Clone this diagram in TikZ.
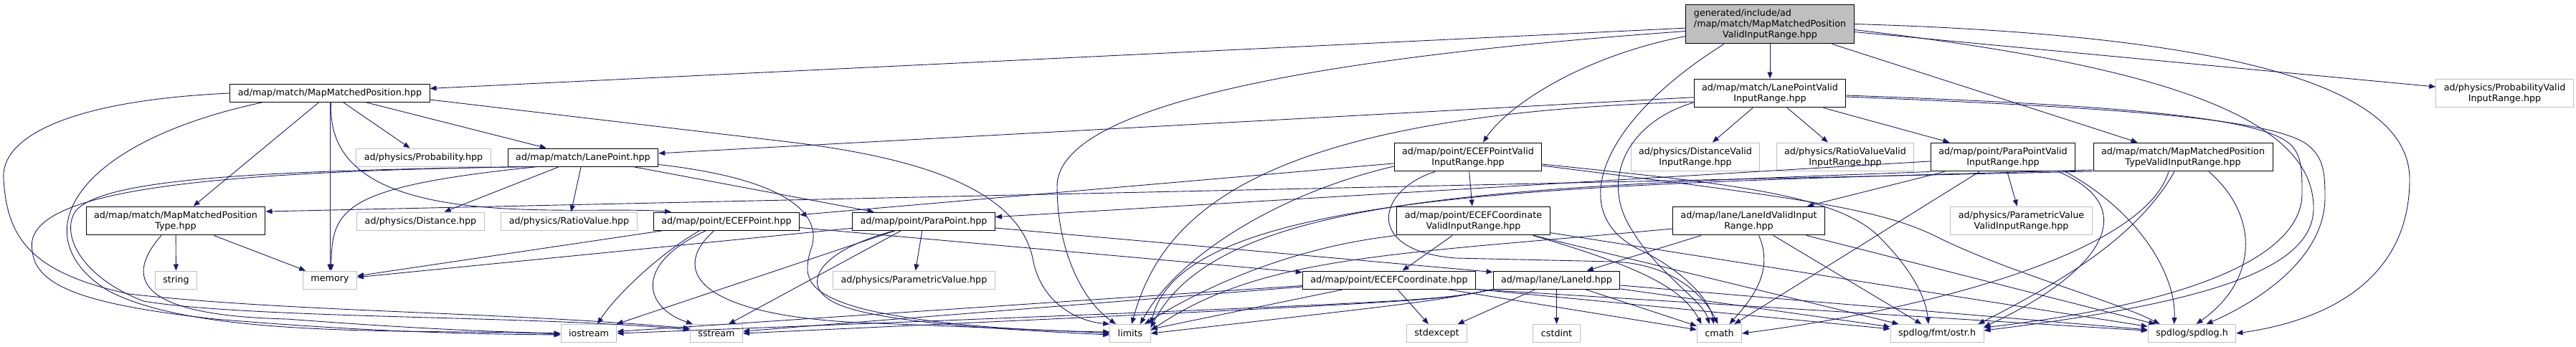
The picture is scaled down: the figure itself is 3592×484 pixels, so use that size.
\documentclass[tikz,border=0pt]{standalone}
\usepackage{fontspec}
\newfontfamily\dotfont{DejaVu Sans}
\usetikzlibrary{arrows.meta}
\definecolor{edgeblue}{RGB}{25,25,112}
\definecolor{grey75}{RGB}{191,191,191}

\begin{document}
\begin{tikzpicture}[
    x=1pt, y=-1pt,
    hdr/.style={rectangle, draw=black, line width=1pt, fill=white, inner xsep=11pt, inner ysep=6.3pt, minimum height=25pt, align=center, font=\dotfont\fontsize{12.7}{15}\selectfont},
    sys/.style={hdr, draw=grey75},
    cur/.style={hdr, fill=grey75},
    dep/.style={draw=edgeblue, line width=0.9pt, -{Triangle[length=9pt,width=7pt]}}
  ]
  \useasboundingbox (0,0) rectangle (3592,484);

  \node[cur] (main) at (2468,33.5) {\rlap{generated/include/ad}\phantom{/map/match/MapMatchedPosition}\\/map/match/MapMatchedPosition\\ValidInputRange.hpp};

  \node[hdr] (mmp) at (460,130) {ad/map/match/MapMatchedPosition.hpp};
  \node[hdr] (lpvir) at (2468,130) {ad/map/match/LanePointValid\\InputRange.hpp};
  \node[sys] (probvir) at (3492.5,130) {ad/physics/ProbabilityValid\\InputRange.hpp};

  \node[sys] (prob) at (590.5,219.5) {ad/physics/Probability.hpp};
  \node[hdr] (lp) at (813,219.5) {ad/map/match/LanePoint.hpp};
  \node[hdr] (ecefpvir) at (2047,219) {ad/map/point/ECEFPointValid\\InputRange.hpp};
  \node[sys] (distvir) at (2364,219) {ad/physics/DistanceValid\\InputRange.hpp};
  \node[sys] (ratiovir) at (2573,219) {ad/physics/RatioValueValid\\InputRange.hpp};
  \node[hdr] (parapvir) at (2793,219) {ad/map/point/ParaPointValid\\InputRange.hpp};
  \node[hdr] (mmptvir) at (3044,219) {ad/map/match/MapMatchedPosition\\TypeValidInputRange.hpp};

  \node[hdr] (mmpt) at (245,308) {ad/map/match/MapMatchedPosition\\Type.hpp};
  \node[sys] (dist) at (586.5,308.5) {ad/physics/Distance.hpp};
  \node[sys] (ratio) at (793.5,308.5) {ad/physics/RatioValue.hpp};
  \node[hdr] (ecefp) at (1013,308.5) {ad/map/point/ECEFPoint.hpp};
  \node[hdr] (parap) at (1288,308.5) {ad/map/point/ParaPoint.hpp};
  \node[hdr] (ecefcvir) at (2054.5,308) {ad/map/point/ECEFCoordinate\\ValidInputRange.hpp};
  \node[hdr] (laneidvir) at (2438.5,308) {ad/map/lane/LaneIdValidInput\\Range.hpp};
  \node[sys] (paramvir) at (2818.5,308) {ad/physics/ParametricValue\\ValidInputRange.hpp};

  \node[sys] (string) at (245.5,390.5) {string};
  \node[sys] (memory) at (460,390.5) {memory};
  \node[sys] (param) at (1274.5,390.5) {ad/physics/ParametricValue.hpp};
  \node[hdr] (ecefc) at (1937,390.5) {ad/map/point/ECEFCoordinate.hpp};
  \node[hdr] (laneid) at (2170.5,390.5) {ad/map/lane/LaneId.hpp};

  \node[sys] (iostream) at (821,465) {iostream};
  \node[sys] (sstream) at (999,465) {sstream};
  \node[sys] (limits) at (1576,465) {limits};
  \node[sys] (stdexcept) at (2003.5,465) {stdexcept};
  \node[sys] (cstdint) at (2170.5,465) {cstdint};
  \node[sys] (cmath) at (2397.5,465) {cmath};
  \node[sys] (ostr) at (2701,465) {spdlog/fmt/ostr.h};
  \node[sys] (spdlog) at (3056.5,465) {spdlog/spdlog.h};

  % straight includes
  \foreach \src/\dst in {main/mmp, main/lpvir, main/mmptvir, main/probvir,
      lpvir/lp, lpvir/distvir, lpvir/ratiovir, lpvir/parapvir,
      mmp/lp, mmp/prob, mmp/memory, mmp/mmpt, mmpt/string, mmpt/memory,
      lp/dist, lp/ratio, lp/parap, ecefp/memory, ecefp/ecefc,
      parap/memory, parap/iostream, parap/param,
      ecefpvir/ecefp, ecefpvir/ecefcvir, ecefcvir/ecefc, ecefcvir/ostr, ecefcvir/spdlog,
      ecefc/iostream, ecefc/sstream, ecefc/limits, ecefc/stdexcept, ecefc/cmath,
      laneid/stdexcept, laneid/cstdint, laneid/cmath, laneid/ostr, laneid/spdlog,
      laneidvir/laneid, laneidvir/ostr, laneidvir/spdlog,
      parapvir/parap, parapvir/laneidvir, parapvir/cmath, parapvir/paramvir}
    \draw[dep] (\src) -- (\dst);

  % routed includes
  \draw[dep] ([yshift=-10pt]main.west) .. controls (1700,90) and (1474,170) .. (1474,260) .. controls (1474,350) and (1510,420) .. ([xshift=-20pt]limits.north);
  \draw[dep] ([yshift=-17pt]main.west) .. controls (2200,80) and (2100,150) .. ([xshift=21pt]ecefpvir.north);
  \draw[dep] ([xshift=-64pt]main.south) .. controls (2230,170) and (2180,300) .. (2290,350) .. controls (2350,380) and (2385,420) .. ([xshift=-8pt]cmath.north);
  \draw[dep] ([yshift=-8pt]main.east) .. controls (3000,90) and (3226,160) .. (3226,290) .. controls (3226,370) and (3100,420) .. ([yshift=4pt]ostr.east);
  \draw[dep] (main.east) .. controls (3150,50) and (3360,130) .. (3360,250) .. controls (3360,380) and (3260,445) .. (spdlog.east);

  \draw[dep] ([yshift=-12pt]lpvir.west) .. controls (1750,160) and (1620,300) .. ([xshift=2pt]limits.north);
  \draw[dep] ([yshift=-13pt]lpvir.west) .. controls (2270,170) and (2230,250) .. (2275,320) .. controls (2310,380) and (2375,420) .. ([xshift=-14pt]cmath.north);
  \draw[dep] ([yshift=-3pt]lpvir.east) .. controls (2900,145) and (3125,159) .. (3185,195) .. controls (3210,210) and (3210,235) .. (3210,270) .. controls (3210,350) and (3080,420) .. ([yshift=8pt]ostr.east);
  \draw[dep] ([yshift=-5pt]lpvir.east) .. controls (2950,150) and (3160,165) .. (3215,200) .. controls (3240,218) and (3242,240) .. (3242,275) .. controls (3242,360) and (3150,420) .. ([xshift=20pt]spdlog.north);

  \draw[dep] ([xshift=2pt]mmp.south) .. controls (450,330) and (800,285) .. ([xshift=-77pt]ecefp.north);
  \draw[dep] ([yshift=-9pt]mmp.east) -- (1100,198) .. controls (1300,222) and (1420,270) .. (1440,360) .. controls (1450,420) and (1500,448) .. (limits.north west);
  \draw[dep] ([xshift=-95pt]mmp.south) .. controls (100,200) and (30,330) .. (150,405) .. controls (280,475) and (600,458) .. ([yshift=-1pt]iostream.west);
  \draw[dep] (mmp.west) .. controls (100,140) and (0,190) .. (5,250) .. controls (10,330) and (40,380) .. (180,410) .. controls (400,435) and (700,435) .. ([yshift=7pt]sstream.west);

  \draw[dep] ([xshift=-20pt]mmpt.south) .. controls (175,385) and (185,440) .. (400,445) .. controls (600,460) and (700,463) .. (iostream.west);

  \draw[dep] ([xshift=-63pt]lp.south) .. controls (480,260) and (462,290) .. ([xshift=2pt]memory.north);
  \draw[dep] ([xshift=-75pt]lp.south) .. controls (250,240) and (30,270) .. (45,350) .. controls (50,400) and (120,425) .. (300,445) .. controls (500,462) and (650,466) .. ([yshift=-2pt]iostream.west);
  \draw[dep] ([xshift=-70pt]lp.south) .. controls (350,238) and (140,250) .. (105,295) .. controls (85,325) and (110,385) .. (200,420) .. controls (350,445) and (750,440) .. ([yshift=5pt]sstream.west);
  \draw[dep] ([yshift=-10pt]lp.east) .. controls (1100,250) and (1150,300) .. (1130,350) .. controls (1118,390) and (1130,410) .. (1200,430) .. controls (1300,455) and (1450,462) .. ([yshift=2pt]limits.west);

  \draw[dep] ([xshift=-37pt]ecefp.south) .. controls (925,350) and (860,410) .. ([xshift=12pt]iostream.north);
  \draw[dep] ([xshift=-28pt]ecefp.south) .. controls (880,370) and (900,430) .. ([xshift=-33pt]sstream.north);
  \draw[dep] ([xshift=-17pt]ecefp.south) .. controls (930,380) and (980,440) .. (1200,450) .. controls (1400,458) and (1500,462) .. (limits.west);

  \draw[dep] ([xshift=-31pt]parap.south) -- ([xshift=17pt]sstream.north);
  \draw[dep] ([xshift=-40pt]parap.south) .. controls (1140,350) and (1110,400) .. (1170,425) .. controls (1230,450) and (1400,460) .. ([yshift=-2pt]limits.west);
  \draw[dep] ([yshift=-9.5pt]parap.east) -- ([yshift=11pt]laneid.west);

  \draw[dep] ([yshift=-13pt]ecefpvir.west) .. controls (1780,270) and (1640,360) .. ([xshift=14pt]limits.north);
  \draw[dep] ([xshift=-46pt]ecefpvir.south) .. controls (1920,265) and (1900,350) .. (2030,360) -- (2250,365) .. controls (2330,368) and (2375,410) .. ([xshift=-2pt]cmath.north);
  \draw[dep] ([yshift=-10pt]ecefpvir.east) .. controls (2400,255) and (2560,270) .. (2620,330) .. controls (2660,370) and (2685,410) .. ([xshift=-12pt]ostr.north);
  \draw[dep] ([yshift=-12pt]ecefpvir.east) .. controls (2500,275) and (2620,290) .. (2700,330) .. controls (2800,380) and (2950,420) .. ([xshift=-45pt]spdlog.north);

  \draw[dep] (ecefcvir.south west) .. controls (1800,345) and (1680,400) .. ([xshift=20pt]limits.north);
  \draw[dep] ([xshift=83pt]ecefcvir.south) .. controls (2280,370) and (2345,400) .. ([xshift=-25pt]cmath.north);

  \draw[dep] (ecefc.south east) -- (ostr);
  \draw[dep] (ecefc.south east) -- (spdlog);

  \draw[dep] (laneid.south west) .. controls (2005,420) .. (iostream.east);
  \draw[dep] (laneid.south west) .. controls (2005,420) .. (sstream.east);
  \draw[dep] (laneid.south west) .. controls (2000,420) .. (limits.east);

  \draw[dep] ([yshift=-11pt]laneidvir.west) .. controls (1950,355) and (1760,355) .. ([yshift=4pt]limits.east);
  \draw[dep] ([xshift=14pt]laneidvir.south) .. controls (2475,380) and (2440,420) .. ([xshift=14pt]cmath.north);

  \draw[dep] (parapvir.south west) .. controls (2100,262) and (1700,270) .. ([yshift=8pt]limits.east);
  \draw[dep] ([xshift=77pt]parapvir.south) .. controls (2990,290) and (2930,380) .. ([yshift=-4pt]ostr.north east);
  \draw[dep] ([xshift=87pt]parapvir.south) .. controls (2990,300) and (3035,390) .. ([xshift=-25pt]spdlog.north);

  \draw[dep] ([yshift=-20pt]mmptvir.west) -- ([yshift=13pt]mmpt.east);
  \draw[dep] ([yshift=-18pt]mmptvir.west) .. controls (2200,258) and (1650,262) .. (limits.north east);
  \draw[dep] ([xshift=-20pt]mmptvir.south) .. controls (2990,350) and (2700,430) .. (cmath.east);
  \draw[dep] ([xshift=-12pt]mmptvir.south) .. controls (2980,330) and (2880,390) .. ([xshift=-8pt]ostr.north east);
  \draw[dep] ([xshift=36pt]mmptvir.south) .. controls (3150,300) and (3150,390) .. ([xshift=6pt]spdlog.north);
\end{tikzpicture}
\end{document}
